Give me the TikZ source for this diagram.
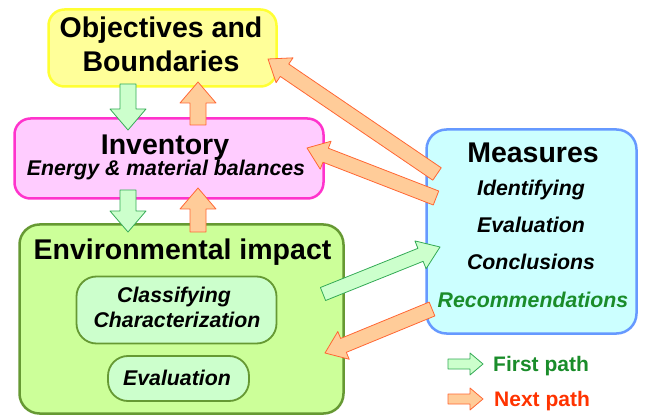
\documentclass[tikz,border=0pt]{standalone}
\usepackage{fontspec}
\setmainfont{Liberation Sans}
\definecolor{objfill}{HTML}{FFFF99}
\definecolor{objline}{HTML}{FFFF33}
\definecolor{invfill}{HTML}{FFCCFF}
\definecolor{invline}{HTML}{FF33CC}
\definecolor{envfill}{HTML}{CCFF99}
\definecolor{envline}{HTML}{669933}
\definecolor{subfill}{HTML}{CCFFCC}
\definecolor{measfill}{HTML}{CCFFFF}
\definecolor{measline}{HTML}{6699FF}
\definecolor{grfill}{HTML}{CCFFCC}
\definecolor{grline}{HTML}{33AA55}
\definecolor{orfill}{HTML}{FFCC99}
\definecolor{orline}{HTML}{FF6633}
\definecolor{recgreen}{HTML}{1A8C2A}
\definecolor{nextred}{HTML}{FF3300}
\usetikzlibrary{calc, positioning}
% block arrow: style, tail, tip, half shaft, half head, head length
\newcommand{\fatarrow}[6]{%
  \coordinate (neck) at ($(#3)!#6!(#2)$);
  \draw[#1] ($(#2)!#4!90:(#3)$) -- ($(neck)!#4!90:(#3)$) -- ($(neck)!#5!90:(#3)$)
    -- (#3) -- ($(neck)!#5!-90:(#3)$) -- ($(neck)!#4!-90:(#3)$) -- ($(#2)!#4!-90:(#3)$) -- cycle;
}

\begin{document}
\begin{tikzpicture}[x=1pt, y=-1pt,
  box/.style={draw, line width=2.5pt, rounded corners=16pt, inner sep=0pt},
  subbox/.style={draw=envline, fill=subfill, line width=1.8pt, rounded corners=20pt, inner sep=0pt},
  boxtitle/.style={font=\fontsize{28.5}{30}\selectfont\bfseries, anchor=base, inner sep=0pt},
  boxitem/.style={font=\fontsize{21.3}{24}\selectfont\bfseries\itshape, anchor=base, inner sep=0pt},
  legendtext/.style={font=\fontsize{21}{24}\selectfont\bfseries, anchor=base west, inner sep=0pt},
  firstpath/.style={fill=grfill, draw=grline, line width=0.8pt, line join=round},
  nextpath/.style={fill=orfill, draw=orline, line width=0.8pt, line join=round}]
  \useasboundingbox (0,0) rectangle (647,419);

  % boxes
  \node[box, draw=objline, fill=objfill, minimum width=228, minimum height=77] (obj) at (162.5,48) {};
  \node[box, draw=invline, fill=invfill, minimum width=309, minimum height=80] (inv) at (169,158.5) {};
  \node[box, draw=envline, fill=envfill, minimum width=324, minimum height=189, rounded corners=20pt] (env) at (181.5,319) {};
  \node[subbox, minimum width=200, minimum height=67] (cls) at (176.5,310) {};
  \node[subbox, minimum width=141, minimum height=45] (evl) at (178.5,378.5) {};
  \node[box, draw=measline, fill=measfill, minimum width=210, minimum height=204, rounded corners=20pt] (meas) at (531.5,231.5) {};

  % texts
  \node[boxtitle] (obj-1) at (161,37.5) {Objectives and};
  \node[boxtitle] (obj-2) at (161,72) {Boundaries};
  \node[boxtitle] (inv-1) at (165,155) {Inventory};
  \node[boxitem] (inv-2) at (166,176) {Energy \& material balances};
  \node[boxtitle] (env-1) at (182.5,260) {Environmental impact};
  \node[boxitem] (cls-1) at (174,302) {Classifying};
  \node[boxitem] (cls-2) at (177,327) {Characterization};
  \node[boxitem] (evl-1) at (177,385) {Evaluation};
  \node[boxtitle] (meas-1) at (533,163) {Measures};
  \foreach \i/\y/\txt in {2/196/Identifying, 3/233/Evaluation, 4/270/Conclusions}
    \node[boxitem] (meas-\i) at (531,\y) {\txt};
  \node[boxitem, text=recgreen] (meas-5) at (533,307) {Recommendations};

  % arrow ends
  \coordinate (g1a) at (128,84);   \coordinate (g1b) at (128,130);
  \coordinate (o1a) at (198,125);  \coordinate (o1b) at (198,82);
  \coordinate (g2a) at (128,190);  \coordinate (g2b) at (128,232);
  \coordinate (o2a) at (198,232);  \coordinate (o2b) at (198,188);
  \coordinate (o3a) at (437,174);  \coordinate (o3b) at (268,59);
  \coordinate (o4a) at (436,198);  \coordinate (o4b) at (307,148);
  \coordinate (g3a) at (323,294);  \coordinate (g3b) at (440,247);
  \coordinate (o5a) at (432,309);  \coordinate (o5b) at (325,353);

  \fatarrow{firstpath}{g1a}{g1b}{8pt}{18pt}{21pt}
  \fatarrow{nextpath}{o1a}{o1b}{8pt}{18pt}{21pt}
  \fatarrow{firstpath}{g2a}{g2b}{8pt}{18pt}{21pt}
  \fatarrow{nextpath}{o2a}{o2b}{8pt}{18pt}{21pt}
  \fatarrow{nextpath}{o3a}{o3b}{7.5pt}{15pt}{20pt}
  \fatarrow{nextpath}{o4a}{o4b}{7.5pt}{15pt}{20pt}
  \fatarrow{firstpath}{g3a}{g3b}{7pt}{15pt}{21pt}
  \fatarrow{nextpath}{o5a}{o5b}{7.5pt}{15pt}{20pt}

  % legend
  \coordinate (lg1a) at (448,364); \coordinate (lg1b) at (483,364);
  \coordinate (lg2a) at (448,399); \coordinate (lg2b) at (483,399);
  \fatarrow{firstpath}{lg1a}{lg1b}{5pt}{11pt}{13pt}
  \fatarrow{nextpath}{lg2a}{lg2b}{5pt}{11pt}{13pt}
  \node[legendtext, text=recgreen] (leg-1) at (493,371) {First path};
  \node[legendtext, text=nextred] (leg-2) at (494,406) {Next path};
\end{tikzpicture}
\end{document}
